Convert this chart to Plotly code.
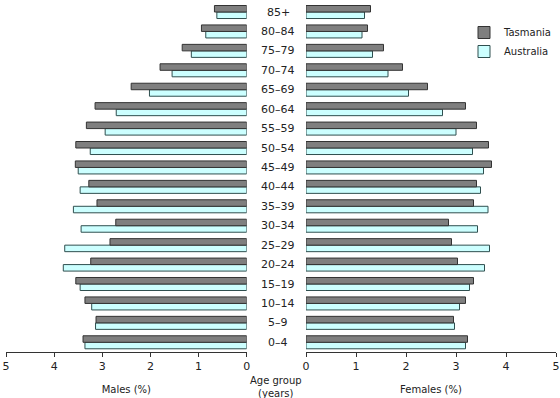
import plotly.graph_objects as go

ages = ["0–4", "5–9", "10–14", "15–19", "20–24", "25–29", "30–34", "35–39", "40–44",
        "45–49", "50–54", "55–59", "60–64", "65–69", "70–74", "75–79", "80–84", "85+"]

males_tas = [3.40, 3.13, 3.36, 3.55, 3.24, 2.84, 2.72, 3.11, 3.28,
             3.56, 3.55, 3.33, 3.15, 2.40, 1.80, 1.34, 0.94, 0.67]
males_aus = [3.36, 3.14, 3.22, 3.46, 3.81, 3.78, 3.44, 3.60, 3.46,
             3.50, 3.25, 2.94, 2.71, 2.02, 1.55, 1.15, 0.85, 0.62]
females_tas = [3.23, 2.95, 3.19, 3.35, 3.03, 2.91, 2.85, 3.35, 3.41,
               3.71, 3.65, 3.41, 3.19, 2.43, 1.93, 1.55, 1.23, 1.29]
females_aus = [3.19, 2.97, 3.07, 3.27, 3.57, 3.67, 3.43, 3.64, 3.49,
               3.55, 3.33, 3.00, 2.73, 2.05, 1.64, 1.33, 1.12, 1.17]

x_ticks = [0, 1, 2, 3, 4, 5]

TAS_FILL, TAS_LINE = "#7f7f7f", "#333333"
AUS_FILL, AUS_LINE = "#ccffff", "#2f4f4f"
FONT = "DejaVu Sans"

fig = go.Figure()
# Australia first so Tasmania sits on top within each group
fig.add_trace(go.Bar(y=ages, x=males_aus, orientation="h", name="Australia",
                     marker=dict(color=AUS_FILL, line=dict(color=AUS_LINE, width=1)),
                     xaxis="x", yaxis="y", legendgroup="aus", showlegend=True, legendrank=2))
fig.add_trace(go.Bar(y=ages, x=males_tas, orientation="h", name="Tasmania",
                     marker=dict(color=TAS_FILL, line=dict(color=TAS_LINE, width=1)),
                     xaxis="x", yaxis="y", legendgroup="tas", showlegend=True, legendrank=1))
fig.add_trace(go.Bar(y=ages, x=females_aus, orientation="h", name="Australia",
                     marker=dict(color=AUS_FILL, line=dict(color=AUS_LINE, width=1)),
                     xaxis="x2", yaxis="y2", legendgroup="aus", showlegend=False))
fig.add_trace(go.Bar(y=ages, x=females_tas, orientation="h", name="Tasmania",
                     marker=dict(color=TAS_FILL, line=dict(color=TAS_LINE, width=1)),
                     xaxis="x2", yaxis="y2", legendgroup="tas", showlegend=False))

H = 398.0
W = 560.0
ydom = [(H - 352) / H, (H - 2.3) / H]

axis_common = dict(
    showgrid=False, zeroline=False, showline=True, linecolor="#333333", linewidth=1,
    ticks="outside", ticklen=4, tickcolor="#333333", tickvals=x_ticks,
    ticktext=[str(v) for v in x_ticks],
    tickfont=dict(family=FONT, size=11, color="#222222"),
    automargin=False, fixedrange=True,
)

fig.update_layout(
    width=560, height=398,
    margin=dict(l=0, r=0, t=0, b=0),
    paper_bgcolor="white", plot_bgcolor="white",
    barmode="group", bargap=0.33, bargroupgap=0,
    font=dict(family=FONT, size=10, color="#222222"),
    xaxis=dict(domain=[6 / W, 246.7 / W], range=[5, 0], anchor="y",
               title=dict(text="Males (%)", standoff=13,
                          font=dict(family=FONT, size=10, color="#222222")),
               **axis_common),
    xaxis2=dict(domain=[306 / W, 556 / W], range=[0, 5], anchor="y2",
                title=dict(text="Females (%)", standoff=13,
                           font=dict(family=FONT, size=10, color="#222222")),
                **axis_common),
    yaxis=dict(domain=ydom, anchor="x", range=[-0.5, 17.5], showticklabels=False,
               showgrid=False, zeroline=False, showline=False, ticks="", fixedrange=True),
    yaxis2=dict(domain=ydom, anchor="x2", range=[-0.5, 17.5], showticklabels=False,
                showgrid=False, zeroline=False, showline=False, ticks="", fixedrange=True,
                matches="y"),
    legend=dict(x=464 / W, y=1 - 18 / H, xanchor="left", yanchor="top",
                bgcolor="rgba(0,0,0,0)", font=dict(family=FONT, size=10, color="#222222"),
                itemwidth=30, tracegroupgap=0),
    showlegend=True,
)

for a in ages:
    fig.add_annotation(x=278 / W, xref="paper", y=a, yref="y", text=a, showarrow=False,
                       xanchor="center", yanchor="middle",
                       font=dict(family=FONT, size=11, color="#222222"))

fig.add_annotation(x=276 / W, xref="paper", y=(H - 387) / H, yref="paper",
                   text="Age group<br>(years)", showarrow=False, xanchor="center",
                   yanchor="middle", align="center",
                   font=dict(family=FONT, size=10, color="#222222"))

fig.write_html(
    "out.html",
    config={"displayModeBar": False},
    post_script="document.body.style.margin='0';document.body.style.overflow='hidden';",
)
